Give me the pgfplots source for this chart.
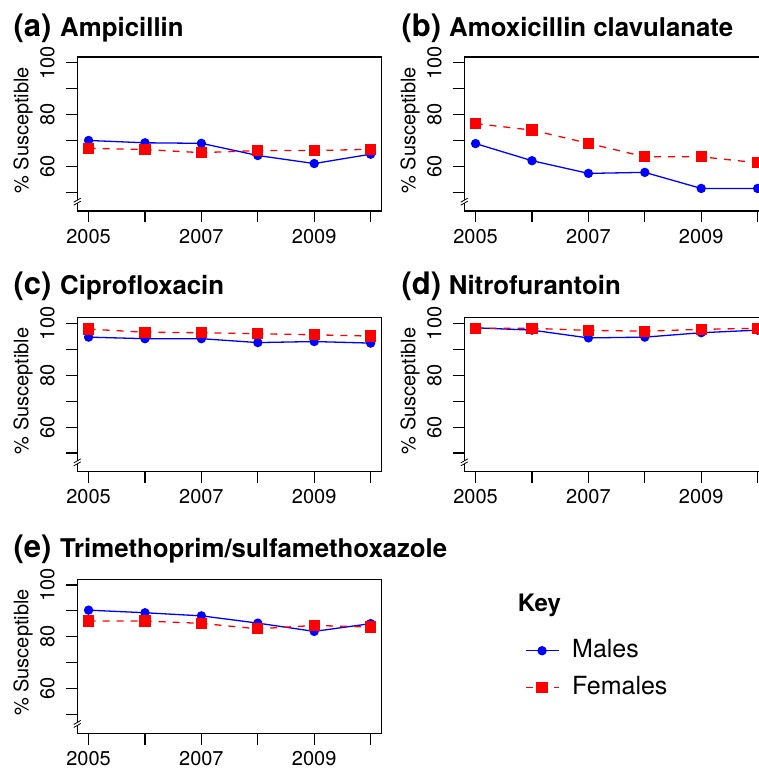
\documentclass[border=0pt]{standalone}
\usepackage{pgfplots}
\pgfplotsset{compat=1.18}
\usepackage{fontspec}
\setmainfont{TeX Gyre Heros}
\definecolor{mblue}{RGB}{0,0,255}
\definecolor{fred}{RGB}{255,0,0}

\newcommand{\ticksize}{\fontsize{20}{23}\selectfont}
\newcommand{\brk}{%
  \fill[white,shift={(axis cs:2004.8,46.4)}] (-3.5pt,-3.5pt) -- (3.5pt,0.5pt) -- (3.5pt,3.5pt) -- (-3.5pt,-0.5pt) -- cycle;
  \draw[black,line width=0.8pt,shift={(axis cs:2004.8,46.4)}] (-3.5pt,-3.5pt) -- (3.5pt,0.5pt) (-3.5pt,-0.5pt) -- (3.5pt,3.5pt);}

\pgfplotsset{
  panel/.style={
    scale only axis, width=304.6pt, height=154pt, anchor=south west,
    xmin=2004.8, xmax=2010.2, ymin=42.8, ymax=102.2,
    axis line style={line width=1.1pt},
    every tick/.style={black, line width=1.1pt},
    tick align=outside, major tick length=11.5pt,
    xtick={2005,...,2010}, xticklabels={2005,,2007,,2009,},
    ytick={50,60,...,100}, yticklabels={,60,,80,,100},
    xtick pos=bottom, ytick pos=left,
    /pgf/number format/assume math mode=true,
    tick label style={font=\ticksize},
    xticklabel style={yshift=-3pt},
    yticklabel style={rotate=90, anchor=south, inner sep=11pt},
    ylabel={\% Susceptible},
    ylabel style={font=\ticksize, at={(axis description cs:-0.178,0.524)}, anchor=center},
    clip=false,
  },
  males/.style={mblue, line width=1.3pt, mark=*, mark size=4pt, mark options={solid}},
  females/.style={fred, line width=1.3pt, dash pattern=on 7pt off 7pt, mark=square*, mark size=5pt, mark options={solid}},
}

\begin{document}
\begin{tikzpicture}[x=1pt,y=1pt]
\path[use as bounding box] (0,0) rectangle (758,773);

% (a)
\begin{axis}[panel, at={(77.3pt,562pt)}]
\addplot[males] coordinates {(2005,70.0)(2006,69.1)(2007,68.9)(2008,64.2)(2009,61.1)(2010,64.7)};
\addplot[females] coordinates {(2005,67.0)(2006,66.5)(2007,65.3)(2008,66.1)(2009,66.1)(2010,66.6)};
\brk
\end{axis}

% (b)
\begin{axis}[panel, at={(464.3pt,562pt)}]
\addplot[males] coordinates {(2005,68.8)(2006,62.2)(2007,57.3)(2008,57.7)(2009,51.5)(2010,51.5)};
\addplot[females] coordinates {(2005,76.5)(2006,74.0)(2007,68.9)(2008,63.7)(2009,63.7)(2010,61.4)};
\brk
\end{axis}

% (c)
\begin{axis}[panel, at={(77.3pt,301.3pt)}]
\addplot[males] coordinates {(2005,94.7)(2006,94.1)(2007,94.1)(2008,92.6)(2009,93.0)(2010,92.4)};
\addplot[females] coordinates {(2005,97.8)(2006,96.6)(2007,96.4)(2008,96.0)(2009,95.6)(2010,95.1)};
\brk
\end{axis}

% (d)
\begin{axis}[panel, at={(464.3pt,301.3pt)}]
\addplot[males] coordinates {(2005,98.3)(2006,97.4)(2007,94.4)(2008,94.7)(2009,96.4)(2010,97.4)};
\addplot[females] coordinates {(2005,98.1)(2006,98.1)(2007,97.3)(2008,97.0)(2009,97.7)(2010,98.1)};
\brk
\end{axis}

% (e) with the key
\begin{axis}[panel, at={(77.3pt,39.7pt)},
  legend style={at={(axis description cs:1.459,0.625)}, anchor=north west,
    draw=none, fill=none, font=\fontsize{25}{28}\selectfont,
    nodes={inner sep=0pt, text height=18pt, text depth=5pt},
    row sep=14pt, column sep=13pt},
  legend cell align=left,
  legend image code/.code={\draw[mark repeat=2,mark phase=2,#1] plot coordinates {(0pt,0pt) (16.5pt,0pt) (33pt,0pt)};}]
\addplot[males] coordinates {(2005,90.3)(2006,89.3)(2007,88.1)(2008,85.3)(2009,82.1)(2010,85.1)};
\addlegendentry{Males}
\addplot[females] coordinates {(2005,86.1)(2006,86.1)(2007,85.2)(2008,83.1)(2009,84.4)(2010,83.8)};
\addlegendentry{Females}
\brk
\end{axis}

% panel titles
\tikzset{lab/.style={anchor=base west, inner sep=0pt, font=\bfseries\fontsize{31}{33}\selectfont},
         drug/.style={anchor=base west, inner sep=0pt, font=\bfseries\fontsize{25.8}{29}\selectfont}}
\node[lab] at (13.3,736.3) {(a)};
\node[drug] at (60,736.3) {Ampicillin};
\node[lab] at (401.3,736.3) {(b)};
\node[drug] at (449,736.3) {Amoxicillin clavulanate};
\node[lab] at (13.3,478.7) {(c)};
\node[drug] at (60,478.7) {Ciprofloxacin};
\node[lab] at (401.3,478.7) {(d)};
\node[drug] at (448.7,478.7) {Nitrofurantoin};
\node[lab] at (13.3,215.3) {(e)};
\node[drug] at (60,215.3) {Trimethoprim/sulfamethoxazole};
\node[anchor=base west, inner sep=0pt, font=\bfseries\fontsize{24}{27}\selectfont] at (517.7,161.3) {Key};
\end{tikzpicture}
\end{document}
